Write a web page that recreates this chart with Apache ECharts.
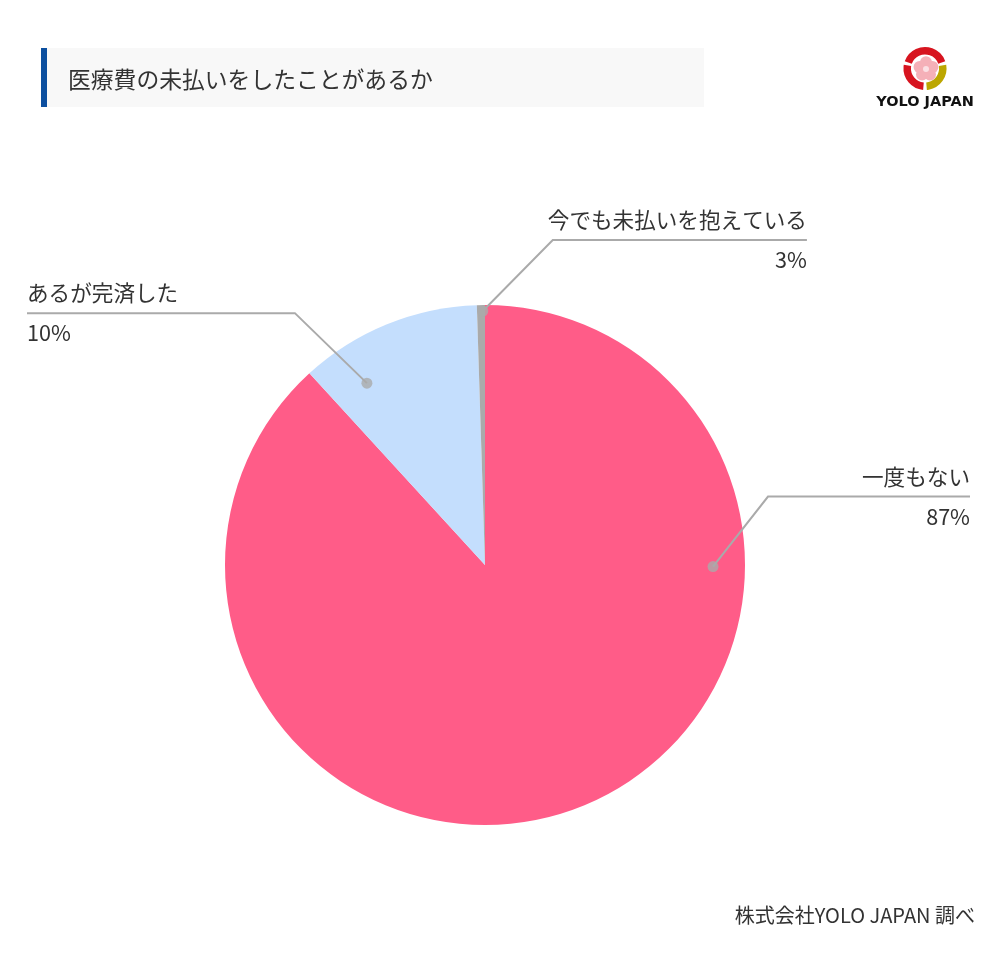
<!DOCTYPE html>
<html>
<head>
<meta charset="utf-8">
<script src="https://cdn.jsdelivr.net/npm/echarts@6/dist/echarts.min.js"></script>
<style>
html,body{margin:0;padding:0;background:#fff;}
#chart{width:1000px;height:960px;}
</style>
</head>
<body>
<div id="chart"></div>
<script>
// ---- data ----
const categories = ['一度もない', 'あるが完済した', '今でも未払いを抱えている'];
const values = [88.2, 11.3, 0.5];          // shares as drawn in the pie
const percentLabels = ['87%', '10%', '3%'];  // printed labels
const titleText = '医療費の未払いをしたことがあるか';
const sourceText = '株式会社YOLO JAPAN 調べ';

// ---- layout / style ----
const colors = ['#FF5C88', '#C4DEFD', '#AAAAAA'];
const CX = 485, CY = 565, R = 260;
const W = 1000;
// label anchor (angle clockwise from 12 o'clock, radius fraction) and leader bend
const labelAnchors = [
  { angle: 90.4, r: 0.877, dx: 55, dy: -70, edge: 'right' },
  { angle: 327, r: 0.834, dx: -72, dy: -70, edge: 'left' },
  { angle: 359.5, r: 0.977, dx: 70, dy: -71, edge: 'follow' }
];
const FONT = '"Noto Sans CJK JP", "Noto Sans", sans-serif';

const chart = echarts.init(document.getElementById('chart'), null, { renderer: 'canvas' });

function anchorPoint(a) {
  const th = a.angle * Math.PI / 180;
  return [CX + a.r * R * Math.sin(th), CY - a.r * R * Math.cos(th)];
}

// logo ring arcs (screen angles, degrees)
const D = Math.PI / 180;
const LX = 925, LY = 68.5;
const logoArcs = [
  { s: -160, e: -20, c: '#d7141f' },
  { s: 95, e: 190, c: '#d7141f' },
  { s: -10, e: 85, c: '#bca600' }
];

const pieData = categories.map((c, i) => ({ name: c, value: values[i] }));

const option = {
  backgroundColor: '#ffffff',
  animation: false,
  polar: { center: [CX, CY], radius: R },
  angleAxis: { type: 'value', min: 0, max: 360, startAngle: 90, clockwise: true, show: false },
  radiusAxis: { type: 'value', min: 0, max: 1, show: false },
  graphic: [
    { type: 'rect', shape: { x: 41, y: 48, width: 663, height: 59 }, style: { fill: '#f8f8f8' }, silent: true },
    { type: 'rect', shape: { x: 41, y: 48, width: 6, height: 59 }, style: { fill: '#0c4f9f' }, silent: true },
    { type: 'text', x: 68, y: 79, style: { text: titleText, fill: '#333', font: '22.8px ' + FONT, verticalAlign: 'middle', align: 'left' }, silent: true },
    // logo
    ...logoArcs.map(a => ({ type: 'arc', shape: { cx: LX, cy: LY, r: 17.8, startAngle: a.s * D, endAngle: a.e * D }, style: { stroke: a.c, lineWidth: 7.5, fill: null }, silent: true })),
    ...[0, 1, 2, 3, 4].map(k => {
      const t = (-90 + k * 72) * D;
      return { type: 'circle', shape: { cx: LX + 1 + 6.8 * Math.cos(t), cy: LY + 0.5 + 6.8 * Math.sin(t), r: 6 }, style: { fill: '#f5b0b8' }, silent: true };
    }),
    { type: 'circle', shape: { cx: LX + 1, cy: LY + 0.5, r: 3 }, style: { fill: '#fbe0e4' }, silent: true },
    { type: 'text', x: 925, y: 102, style: { text: 'YOLO JAPAN', fill: '#111', font: 'bold 14.5px "DejaVu Sans", sans-serif', align: 'center', verticalAlign: 'middle' }, silent: true },
    { type: 'text', x: 975, y: 915, style: { text: sourceText, fill: '#333', font: '20px ' + FONT, align: 'right', verticalAlign: 'middle' }, silent: true }
  ],
  series: [
    {
      // the visible sectors
      type: 'pie',
      center: [CX, CY],
      radius: R,
      startAngle: 90,
      clockwise: true,
      silent: true,
      label: { show: false },
      labelLine: { show: false },
      data: pieData.map((d, i) => ({ name: d.name, value: d.value, itemStyle: { color: colors[i] } })),
      z: 2
    },
    {
      // same pie, transparent, carrying the labels and leader lines on top
      type: 'pie',
      center: [CX, CY],
      radius: R,
      startAngle: 90,
      clockwise: true,
      avoidLabelOverlap: false,
      silent: true,
      itemStyle: { color: 'rgba(0,0,0,0)' },
      data: pieData,
      label: {
        show: true,
        position: 'outside',
        color: '#333',
        fontFamily: FONT,
        fontSize: 21.6,
        lineHeight: 40,
        formatter: p => p.name + '\n' + percentLabels[p.dataIndex]
      },
      labelLine: { show: true, length: 20, length2: 20, lineStyle: { color: '#aaaaaa', width: 2 } },
      labelLayout: function (params) {
        const i = params.dataIndex;
        const a = labelAnchors[i];
        const p0 = anchorPoint(a);
        const b = [p0[0] + a.dx, p0[1] + a.dy];
        const w = params.labelRect.width;
        let x, align, ex;
        if (a.edge === 'right') { x = W - 30; align = 'right'; ex = x; }
        else if (a.edge === 'left') { x = 27; align = 'left'; ex = x; }
        else { x = b[0] - 5 + w; align = 'right'; ex = x; }
        return {
          x: x, y: b[1], align: align, verticalAlign: 'middle',
          labelLinePoints: [p0, b, [ex, b[1]]]
        };
      },
      z: 4
    },
    {
      type: 'scatter',
      coordinateSystem: 'polar',
      silent: true,
      symbolSize: 11,
      itemStyle: { color: '#aaaaaa' },
      data: labelAnchors.map(a => [a.r, a.angle]),
      z: 6
    }
  ]
};
chart.setOption(option);
</script>
</body>
</html>
